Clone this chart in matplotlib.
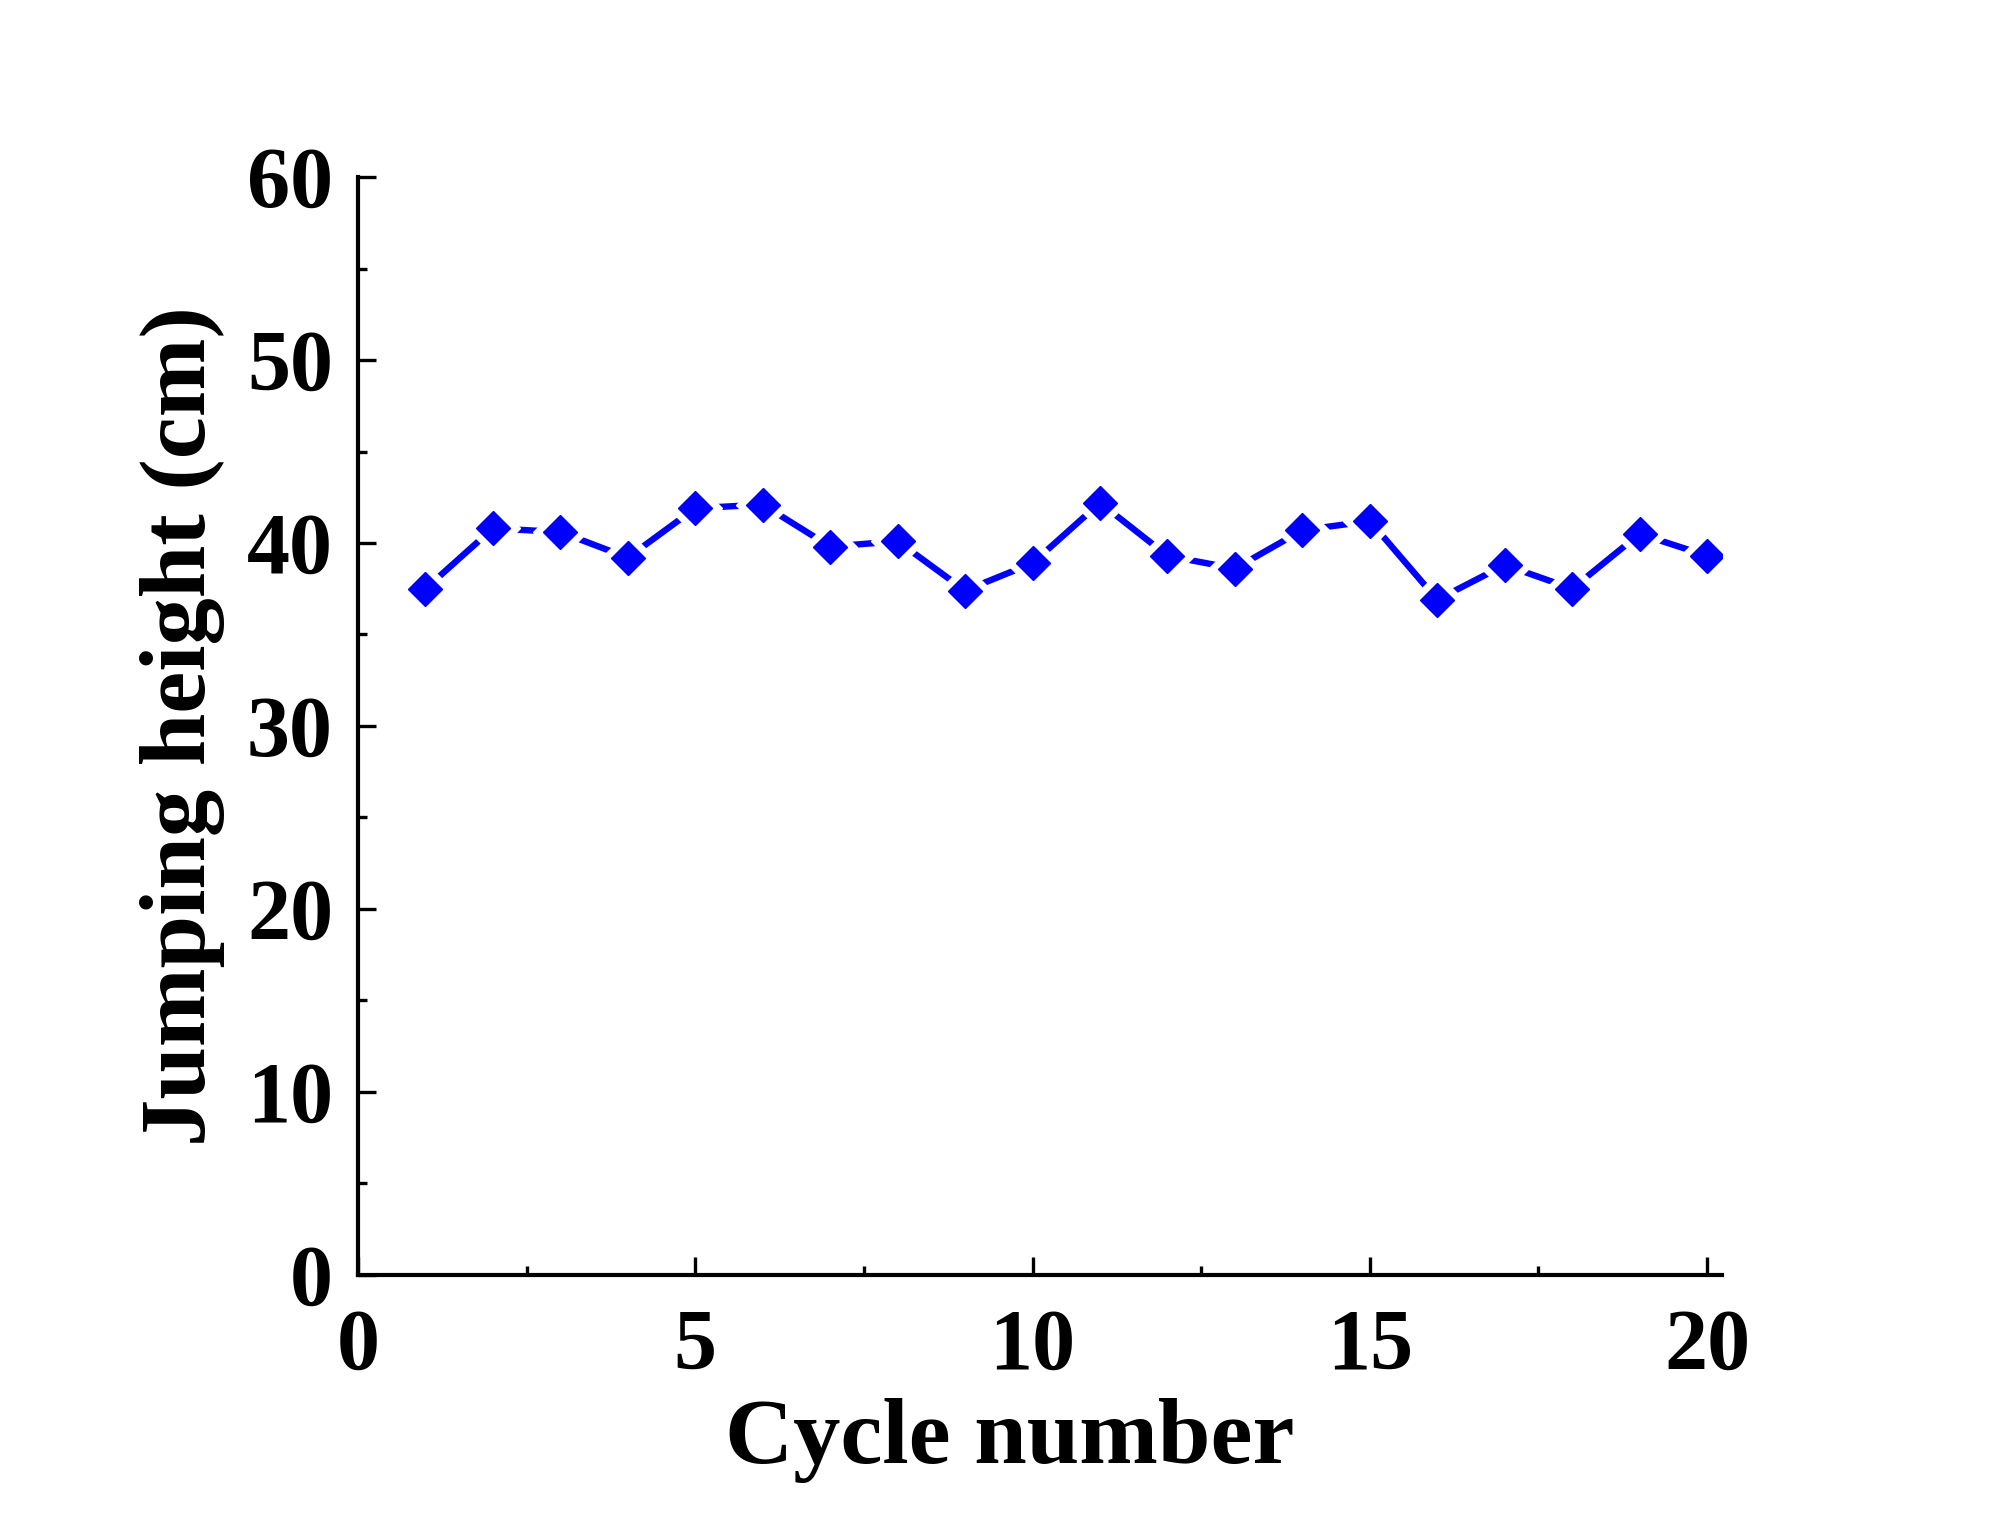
import matplotlib.pyplot as plt
import numpy as np

cycles = np.arange(1, 21)
height = [37.5, 40.8, 40.6, 39.2, 41.9, 42.1, 39.8, 40.1, 37.4, 38.9,
          42.2, 39.3, 38.6, 40.7, 41.2, 36.9, 38.8, 37.5, 40.5, 39.3]

xticks = [0, 5, 10, 15, 20]
yticks = [0, 10, 20, 30, 40, 50, 60]

plt.rcParams['font.family'] = ['Liberation Serif', 'DejaVu Serif']
plt.rcParams['font.weight'] = 'bold'

fig = plt.figure(figsize=(19.99, 15.30), dpi=100)
ax = fig.add_axes([0.1791, 0.1667, 0.6823, 0.7176])

blue = (0, 0, 1)
# line with a gap around each symbol (white halo under the diamonds)
ax.plot(cycles, height, color=blue, lw=4.6, solid_capstyle='round', zorder=1)
ax.plot(cycles, height, ls='none', marker='D', ms=27, mfc='white', mec='white', zorder=2)
ax.plot(cycles, height, ls='none', marker='D', ms=17, mfc=blue, mec=blue, mew=1, zorder=3)

ax.set_xlim(0, 20.22)
ax.set_ylim(0, 60)
ax.set_xticks(xticks)
ax.set_yticks(yticks)
ax.set_xticks(np.arange(2.5, 20, 5), minor=True)
ax.set_yticks(np.arange(5, 60, 10), minor=True)

for s in ['top', 'right']:
    ax.spines[s].set_visible(False)
for s in ['left', 'bottom']:
    ax.spines[s].set_linewidth(3)

ax.tick_params(which='major', direction='in', length=13, width=2.4, labelsize=62)
ax.tick_params(which='minor', direction='in', length=6.5, width=2.4)
ax.tick_params(axis='x', which='major', pad=24)
ax.tick_params(axis='y', which='major', pad=18)

ax.set_xlabel('Cycle number', fontsize=68, fontweight='bold')
ax.set_ylabel('Jumping height (cm)', fontsize=68, fontweight='bold', labelpad=16)
ax.xaxis.set_label_coords(0.478, -0.112)

fig.savefig('out.png', dpi=100)
